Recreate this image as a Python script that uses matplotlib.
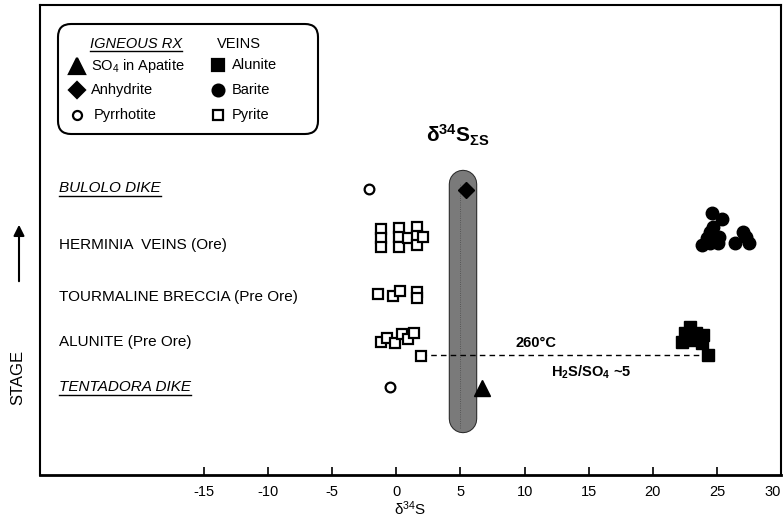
import matplotlib
matplotlib.use('Agg')
import matplotlib.pyplot as plt
import matplotlib.transforms as mtransforms
import matplotlib.patheffects as pe
from matplotlib.patches import FancyBboxPatch

plt.rcParams['font.family'] = ['Liberation Sans', 'DejaVu Sans']
plt.rcParams['mathtext.fontset'] = 'custom'
plt.rcParams['mathtext.rm'] = 'Liberation Sans'
plt.rcParams['mathtext.bf'] = 'Liberation Sans:bold'
plt.rcParams['mathtext.default'] = 'regular'

# stage positions (bottom -> top)
stage_names = ['TENTADORA DIKE', 'ALUNITE (Pre Ore)', 'TOURMALINE BRECCIA (Pre Ore)',
               'HERMINIA  VEINS (Ore)', 'BULOLO DIKE']
stage_y = [1.96, 2.96, 3.96, 5.11, 6.38]
stage_italic = [True, False, False, False, True]

# igneous rocks
pyrrhotite_x = [-2.1, -0.5]
pyrrhotite_y = [6.36, 1.96]
anhydrite_x = [5.4]
anhydrite_y = [6.33]
apatite_x = [6.7]
apatite_y = [1.93]

# veins - pyrite
pyrite_x = [-1.2, -1.2, -1.2, 0.2, 0.2, 0.2, 0.9, 1.6, 1.6, 1.6, 2.1,
            -1.4, -0.3, 0.3, 1.6, 1.6,
            -1.2, -0.7, -0.1, 0.4, 0.9, 1.4,
            1.95]
pyrite_y = [5.47, 5.27, 5.07, 5.49, 5.29, 5.07, 5.27, 5.51, 5.31, 5.11, 5.29,
            4.02, 3.98, 4.09, 4.07, 3.93,
            2.96, 3.04, 2.93, 3.13, 3.02, 3.16,
            2.64]

# veins - barite
barite_x = [24.6, 25.4, 24.7, 24.5, 24.2, 23.8, 24.5, 25.1, 25.2, 26.4, 27.0, 27.3, 27.5]
barite_y = [5.82, 5.69, 5.51, 5.40, 5.27, 5.11, 5.16, 5.16, 5.29, 5.16, 5.40, 5.29, 5.16]

# veins - alunite
alunite_x = [22.9, 22.5, 23.4, 23.9, 22.3, 23.1, 23.8, 24.3]
alunite_y = [3.29, 3.16, 3.16, 3.11, 2.96, 3.00, 2.93, 2.66]

# pyrite-alunite pair (260 C)
pair_x = [1.95, 24.3]
pair_y = [2.66, 2.66]

# total sulfur band
band_x = 5.2
band_y = [1.24, 6.47]

xticks = [-15, -10, -5, 0, 5, 10, 15, 20, 25, 30]

fig = plt.figure(figsize=(7.84, 5.18), dpi=100)
ax = fig.add_axes([40 / 784, 43 / 518, 741 / 784, 470 / 518])
# pixel transform (top-left origin)
T = mtransforms.Affine2D().scale(1 / 100, -1 / 100).translate(0, 5.18) + fig.dpi_scale_trans

ax.set_xlim(-27.8, 30)
ax.set_ylim(0, 10.44)

# shaded band
ax.plot([band_x, band_x], band_y, color='#7a7a7a', lw=19, solid_capstyle='round', zorder=1,
        path_effects=[pe.Stroke(linewidth=20.5, foreground='#2a2a2a'), pe.Normal()])
ax.plot([band_x - 0.25, band_x - 0.25], [band_y[0] - 0.2, band_y[1]], color='#4a4a4a', lw=0.6,
        ls=':', zorder=1.5)
ax.text(band_x - 0.4, 7.55, r'δ$^{\mathbf{34}}$S$_{\mathbf{ΣS}}$', fontsize=15, fontweight='bold',
        ha='center', va='center')

# dashed tie line
ax.plot(pair_x, pair_y, color='black', lw=1, ls=(0, (4, 3)), zorder=2)
ax.text(10.9, 2.93, '260°C', fontsize=10.5, fontweight='bold', ha='center', va='center')
ax.text(15.2, 2.28, r'H$_{\mathbf{2}}$S/SO$_{\mathbf{4}}$ ~5', fontsize=10.5, fontweight='bold',
        ha='center', va='center')

# data
ax.plot(pyrite_x, pyrite_y, 's', ms=7.5, mfc='white', mec='black', mew=1.6, ls='none', zorder=3)
ax.plot(pyrrhotite_x, pyrrhotite_y, 'o', ms=7, mfc='white', mec='black', mew=1.6, ls='none', zorder=3)
ax.plot(barite_x, barite_y, 'o', ms=9, color='black', ls='none', zorder=3)
ax.plot(alunite_x, alunite_y, 's', ms=8, color='black', ls='none', zorder=3)
ax.plot(anhydrite_x, anhydrite_y, 'D', ms=8, color='black', ls='none', zorder=3)
ax.plot(apatite_x, apatite_y, '^', ms=12, color='black', ls='none', zorder=3)

# stage labels
renderer = fig.canvas.get_renderer()
for name, y, it in zip(stage_names, stage_y, stage_italic):
    t = ax.text(-26.3, y, name, fontsize=11, ha='left', va='center',
                style='italic' if it else 'normal')
    if it:
        bb = t.get_window_extent(renderer).transformed(ax.transData.inverted())
        ax.plot([bb.x0, bb.x1], [bb.y0 - 0.02, bb.y0 - 0.02], color='black', lw=1)

# axes styling
ax.set_xticks(xticks)
ax.set_xticklabels([str(v) for v in xticks])
ax.get_xticklabels()[-1].set_horizontalalignment('right')
ax.set_yticks([])
ax.tick_params(axis='x', direction='in', length=6, width=1.2, labelsize=10.5, pad=7.5)
for s in ax.spines.values():
    s.set_linewidth(1.5)
ax.spines['bottom'].set_linewidth(2)
ax.set_xlabel('δ$^{34}$S', fontsize=11, labelpad=0)

# STAGE label and arrow
ax.text(18, 377, 'STAGE', transform=T, rotation=90, fontsize=12, ha='center', va='center')
ax.annotate('', xy=(19, 222), xytext=(19, 284), xycoords=T, textcoords=T,
            arrowprops=dict(arrowstyle='-|>', color='black', lw=1.5, mutation_scale=16))

# legend box
box = FancyBboxPatch((0.58, 5.18 - 1.34), 2.60, 1.10, boxstyle='round,pad=0,rounding_size=0.13',
                     transform=fig.dpi_scale_trans, fc='white', ec='black', lw=1.5, zorder=5,
                     clip_on=False)
ax.add_patch(box)
hdr = ax.text(90, 44, 'IGNEOUS RX', transform=T, fontsize=10.5, style='italic', ha='left',
              va='center', zorder=6)
bb = hdr.get_window_extent(renderer)
ax.plot([90, 90 + bb.width], [51, 51], transform=T, color='black', lw=1, clip_on=False, zorder=6)
ax.text(217, 44, 'VEINS', transform=T, fontsize=10.5, ha='left', va='center', zorder=6)

leg_items = [
    (77, 66, '^', 11, 'black', r'SO$_4$ in Apatite', 91),
    (77, 90, 'D', 8, 'black', 'Anhydrite', 91),
    (77, 115, 'o', 6.5, 'white', 'Pyrrhotite', 94),
    (218, 65, 's', 8, 'black', 'Alunite', 232),
    (218, 90, 'o', 8.5, 'black', 'Barite', 232),
    (218, 115, 's', 7.5, 'white', 'Pyrite', 232),
]
for x, y, m, ms, fc, label, tx in leg_items:
    ax.plot([x], [y], m, ms=ms, mfc=fc, mec='black', mew=1.6, transform=T, clip_on=False, zorder=6)
    ax.text(tx, y, label, transform=T, fontsize=10.5, ha='left', va='center', zorder=6)

fig.savefig('out.png', dpi=100)
